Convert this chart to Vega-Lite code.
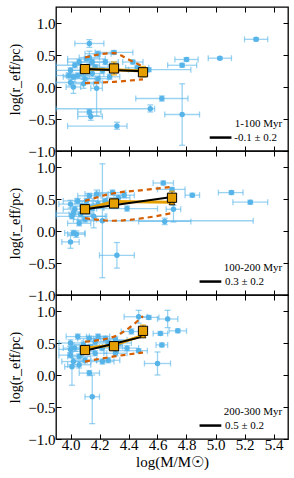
{
"$schema": "https://vega.github.io/schema/vega-lite/v6.json",
"padding": {"left": 8, "top": 5, "right": 7, "bottom": 5},
"spacing": 0,
"bounds": "flush",
"config": {
  "font": "Liberation Serif",
  "view": {"stroke": "black", "strokeWidth": 1.3},
  "axis": {"tickSize": -5, "tickColor": "black", "tickWidth": 1, "domain": false, "grid": false, "labelFont": "Liberation Serif", "labelFontSize": 15, "labelColor": "black", "labelPadding": 6, "titleFont": "Liberation Serif", "titleFontSize": 14, "titleFontWeight": "normal", "titleColor": "black", "titlePadding": 5}
},
"datasets": {
"pts": [
{"p":1,"x":5.28,"y":0.745,"xl":5.2,"xh":5.36,"yl":0.72,"yh":0.77},
{"p":1,"x":5.03,"y":0.45,"xl":4.95,"xh":5.11,"yl":0.43,"yh":0.47},
{"p":1,"x":4.8,"y":0.43,"xl":4.72,"xh":4.88,"yl":0.4,"yh":0.46},
{"p":1,"x":4.77,"y":0.34,"xl":4.67,"xh":4.87,"yl":0.31,"yh":0.37},
{"p":1,"x":4.63,"y":-0.18,"xl":4.45,"xh":4.81,"yl":-0.22,"yh":-0.14},
{"p":1,"x":4.55,"y":-0.34,"xl":3.9,"xh":4.58,"yl":-0.39,"yh":-0.28},
{"p":1,"x":4.77,"y":-0.43,"xl":4.65,"xh":4.89,"yl":-0.91,"yh":0.05},
{"p":1,"x":4.32,"y":-0.61,"xl":3.98,"xh":4.39,"yl":-0.66,"yh":-0.55},
{"p":1,"x":4.13,"y":-0.39,"xl":4.05,"xh":4.21,"yl":-0.43,"yh":-0.35},
{"p":1,"x":4.14,"y":-0.46,"xl":4.05,"xh":4.22,"yl":-0.52,"yh":-0.4},
{"p":1,"x":4.18,"y":-0.02,"xl":4.14,"xh":4.22,"yl":-0.45,"yh":0.05},
{"p":1,"x":4.13,"y":0.68,"xl":4.03,"xh":4.23,"yl":0.62,"yh":0.74},
{"p":1,"x":4.3,"y":0.54,"xl":4.17,"xh":4.43,"yl":0.51,"yh":0.57},
{"p":1,"x":4.43,"y":0.39,"xl":4.36,"xh":4.5,"yl":0.36,"yh":0.42},
{"p":1,"x":4.46,"y":0.3,"xl":4.38,"xh":4.54,"yl":0.27,"yh":0.33},
{"p":1,"x":4.54,"y":0.27,"xl":4.4,"xh":4.83,"yl":0.24,"yh":0.3},
{"p":1,"x":4.02,"y":0.0,"xl":3.97,"xh":4.07,"yl":-0.1,"yh":0.08},
{"p":1,"x":4.0,"y":0.07,"xl":3.9,"xh":4.22,"yl":0.02,"yh":0.12},
{"p":1,"x":4.06,"y":0.39,"xl":3.98,"xh":4.14,"yl":0.35,"yh":0.43},
{"p":1,"x":4.19,"y":0.52,"xl":4.1,"xh":4.28,"yl":0.48,"yh":0.56},
{"p":1,"x":4.11,"y":0.44,"xl":3.98,"xh":4.24,"yl":0.41,"yh":0.47},
{"p":1,"x":4.0,"y":0.26,"xl":3.9,"xh":4.1,"yl":0.22,"yh":0.3},
{"p":1,"x":4.02,"y":0.16,"xl":3.95,"xh":4.09,"yl":0.12,"yh":0.2},
{"p":1,"x":4.27,"y":0.16,"xl":4.2,"xh":4.34,"yl":0.12,"yh":0.2},
{"p":1,"x":4.03,"y":0.34,"xl":3.9,"xh":4.2,"yl":0.3,"yh":0.38},
{"p":1,"x":4.08,"y":0.26,"xl":4.0,"xh":4.16,"yl":0.22,"yh":0.3},
{"p":1,"x":4.15,"y":0.21,"xl":4.07,"xh":4.23,"yl":0.16,"yh":0.26},
{"p":1,"x":4.17,"y":0.31,"xl":4.08,"xh":4.26,"yl":0.27,"yh":0.35},
{"p":1,"x":4.22,"y":0.26,"xl":4.12,"xh":4.32,"yl":0.22,"yh":0.3},
{"p":1,"x":4.05,"y":0.18,"xl":3.97,"xh":4.13,"yl":0.14,"yh":0.22},
{"p":1,"x":4.1,"y":0.13,"xl":4.03,"xh":4.17,"yl":0.07,"yh":0.19},
{"p":1,"x":4.19,"y":0.13,"xl":4.12,"xh":4.26,"yl":0.09,"yh":0.17},
{"p":1,"x":3.99,"y":0.18,"xl":3.9,"xh":4.08,"yl":0.14,"yh":0.22},
{"p":1,"x":4.24,"y":0.39,"xl":4.15,"xh":4.33,"yl":0.35,"yh":0.43},
{"p":1,"x":4.15,"y":0.39,"xl":4.06,"xh":4.24,"yl":0.35,"yh":0.43},
{"p":1,"x":4.09,"y":0.05,"xl":4.02,"xh":4.16,"yl":-0.02,"yh":0.12},
{"p":1,"x":4.13,"y":0.46,"xl":4.06,"xh":4.2,"yl":0.36,"yh":0.56},
{"p":2,"x":5.11,"y":0.6,"xl":5.02,"xh":5.19,"yl":0.57,"yh":0.63},
{"p":2,"x":5.24,"y":0.45,"xl":5.12,"xh":5.36,"yl":0.42,"yh":0.48},
{"p":2,"x":4.84,"y":0.56,"xl":4.79,"xh":4.89,"yl":0.53,"yh":0.59},
{"p":2,"x":4.64,"y":0.75,"xl":4.57,"xh":4.71,"yl":0.72,"yh":0.78},
{"p":2,"x":4.7,"y":0.65,"xl":4.6,"xh":4.79,"yl":0.62,"yh":0.68},
{"p":2,"x":4.71,"y":0.34,"xl":4.66,"xh":4.76,"yl":0.14,"yh":0.4},
{"p":2,"x":4.65,"y":0.15,"xl":4.47,"xh":4.83,"yl":0.1,"yh":0.2},
{"p":2,"x":4.22,"y":0.16,"xl":4.05,"xh":5.26,"yl":-0.73,"yh":1.05},
{"p":2,"x":4.32,"y":-0.38,"xl":4.2,"xh":4.44,"yl":-0.58,"yh":-0.18},
{"p":2,"x":4.0,"y":-0.17,"xl":3.94,"xh":4.06,"yl":-0.27,"yh":-0.07},
{"p":2,"x":4.02,"y":-0.03,"xl":3.96,"xh":4.1,"yl":-0.07,"yh":0.01},
{"p":2,"x":4.04,"y":-0.05,"xl":3.98,"xh":4.1,"yl":-0.1,"yh":0.0},
{"p":2,"x":4.01,"y":0.23,"xl":3.9,"xh":4.25,"yl":0.19,"yh":0.27},
{"p":2,"x":4.1,"y":0.18,"xl":4.02,"xh":4.18,"yl":0.14,"yh":0.22},
{"p":2,"x":4.0,"y":0.42,"xl":3.92,"xh":4.08,"yl":0.36,"yh":0.48},
{"p":2,"x":4.05,"y":0.47,"xl":3.95,"xh":4.15,"yl":0.43,"yh":0.51},
{"p":2,"x":4.13,"y":0.55,"xl":4.05,"xh":4.21,"yl":0.51,"yh":0.59},
{"p":2,"x":4.18,"y":0.58,"xl":4.1,"xh":4.26,"yl":0.54,"yh":0.64},
{"p":2,"x":4.29,"y":0.6,"xl":4.2,"xh":4.38,"yl":0.56,"yh":0.64},
{"p":2,"x":4.37,"y":0.56,"xl":4.3,"xh":4.44,"yl":0.52,"yh":0.6},
{"p":2,"x":4.39,"y":0.35,"xl":4.18,"xh":4.6,"yl":0.31,"yh":0.39},
{"p":2,"x":4.03,"y":0.34,"xl":3.95,"xh":4.11,"yl":0.3,"yh":0.38},
{"p":2,"x":4.08,"y":0.39,"xl":4.0,"xh":4.16,"yl":0.35,"yh":0.43},
{"p":2,"x":4.15,"y":0.36,"xl":4.07,"xh":4.23,"yl":0.32,"yh":0.4},
{"p":2,"x":4.19,"y":0.42,"xl":4.11,"xh":4.27,"yl":0.38,"yh":0.46},
{"p":2,"x":4.24,"y":0.47,"xl":4.16,"xh":4.32,"yl":0.43,"yh":0.51},
{"p":2,"x":4.33,"y":0.52,"xl":4.25,"xh":4.41,"yl":0.48,"yh":0.56},
{"p":2,"x":4.16,"y":0.23,"xl":4.08,"xh":4.24,"yl":0.05,"yh":0.41},
{"p":2,"x":4.07,"y":0.26,"xl":3.99,"xh":4.15,"yl":0.22,"yh":0.3},
{"p":2,"x":4.11,"y":0.47,"xl":4.03,"xh":4.19,"yl":0.43,"yh":0.51},
{"p":2,"x":4.06,"y":0.12,"xl":3.98,"xh":4.14,"yl":0.08,"yh":0.16},
{"p":2,"x":4.02,"y":0.28,"xl":3.9,"xh":4.14,"yl":0.24,"yh":0.32},
{"p":3,"x":4.74,"y":0.69,"xl":4.68,"xh":4.8,"yl":0.66,"yh":0.72},
{"p":3,"x":4.67,"y":0.875,"xl":4.6,"xh":4.74,"yl":0.74,"yh":1.01},
{"p":3,"x":4.54,"y":0.9,"xl":4.47,"xh":4.61,"yl":0.87,"yh":0.93},
{"p":3,"x":4.47,"y":0.91,"xl":4.37,"xh":4.53,"yl":0.81,"yh":1.01},
{"p":3,"x":4.62,"y":0.65,"xl":4.57,"xh":4.67,"yl":0.62,"yh":0.68},
{"p":3,"x":4.63,"y":0.47,"xl":4.59,"xh":4.67,"yl":0.44,"yh":0.5},
{"p":3,"x":4.6,"y":0.18,"xl":4.51,"xh":4.69,"yl":0.0,"yh":0.36},
{"p":3,"x":4.47,"y":0.38,"xl":4.33,"xh":4.53,"yl":0.35,"yh":0.41},
{"p":3,"x":4.42,"y":0.68,"xl":4.35,"xh":4.49,"yl":0.64,"yh":0.72},
{"p":3,"x":4.15,"y":-0.34,"xl":4.1,"xh":4.2,"yl":-0.76,"yh":0.0},
{"p":3,"x":4.13,"y":0.03,"xl":4.06,"xh":4.2,"yl":-0.01,"yh":0.07},
{"p":3,"x":4.01,"y":0.13,"xl":3.96,"xh":4.06,"yl":-0.16,"yh":0.5},
{"p":3,"x":4.05,"y":0.6,"xl":3.97,"xh":4.13,"yl":0.56,"yh":0.64},
{"p":3,"x":4.0,"y":0.5,"xl":3.92,"xh":4.08,"yl":0.45,"yh":0.55},
{"p":3,"x":4.03,"y":0.42,"xl":3.95,"xh":4.11,"yl":0.37,"yh":0.47},
{"p":3,"x":4.09,"y":0.47,"xl":4.01,"xh":4.17,"yl":0.43,"yh":0.51},
{"p":3,"x":4.13,"y":0.57,"xl":4.05,"xh":4.21,"yl":0.53,"yh":0.61},
{"p":3,"x":4.19,"y":0.6,"xl":4.11,"xh":4.27,"yl":0.56,"yh":0.64},
{"p":3,"x":4.24,"y":0.57,"xl":4.16,"xh":4.32,"yl":0.53,"yh":0.61},
{"p":3,"x":4.31,"y":0.55,"xl":4.23,"xh":4.39,"yl":0.51,"yh":0.59},
{"p":3,"x":4.34,"y":0.5,"xl":4.26,"xh":4.42,"yl":0.46,"yh":0.54},
{"p":3,"x":4.0,"y":0.31,"xl":3.92,"xh":4.08,"yl":0.27,"yh":0.35},
{"p":3,"x":4.06,"y":0.29,"xl":3.98,"xh":4.14,"yl":0.25,"yh":0.33},
{"p":3,"x":4.02,"y":0.21,"xl":3.94,"xh":4.1,"yl":0.16,"yh":0.26},
{"p":3,"x":4.06,"y":0.16,"xl":3.98,"xh":4.14,"yl":0.11,"yh":0.21},
{"p":3,"x":4.1,"y":0.23,"xl":4.02,"xh":4.18,"yl":0.19,"yh":0.27},
{"p":3,"x":4.17,"y":0.34,"xl":4.09,"xh":4.25,"yl":0.3,"yh":0.38},
{"p":3,"x":4.22,"y":0.42,"xl":4.14,"xh":4.3,"yl":0.38,"yh":0.46},
{"p":3,"x":4.26,"y":0.5,"xl":4.18,"xh":4.34,"yl":0.46,"yh":0.54},
{"p":3,"x":4.26,"y":0.23,"xl":4.18,"xh":4.34,"yl":0.19,"yh":0.27},
{"p":3,"x":4.31,"y":0.34,"xl":4.23,"xh":4.39,"yl":0.3,"yh":0.38},
{"p":3,"x":4.22,"y":0.21,"xl":4.14,"xh":4.3,"yl":0.17,"yh":0.25},
{"p":3,"x":4.17,"y":0.52,"xl":4.09,"xh":4.25,"yl":0.48,"yh":0.56},
{"p":3,"x":4.39,"y":0.42,"xl":4.31,"xh":4.47,"yl":0.38,"yh":0.46},
{"p":3,"x":4.0,"y":0.4,"xl":3.92,"xh":4.08,"yl":0.35,"yh":0.45},
{"p":3,"x":4.08,"y":0.37,"xl":4.0,"xh":4.16,"yl":0.33,"yh":0.41},
{"p":3,"x":4.14,"y":0.44,"xl":4.06,"xh":4.22,"yl":0.4,"yh":0.48},
{"p":3,"x":4.28,"y":0.44,"xl":4.2,"xh":4.36,"yl":0.4,"yh":0.48}
],
"bins": [
{"p":1,"x":4.1,"sq":0.28,"tri":0.28,"yl":0.24,"yh":0.32},
{"p":1,"x":4.3,"sq":0.29,"tri":0.27,"yl":0.19,"yh":0.39},
{"p":1,"x":4.5,"sq":0.23,"tri":0.25,"yl":0.16,"yh":0.32},
{"p":2,"x":4.1,"sq":0.34,"tri":0.34,"yl":0.3,"yh":0.38},
{"p":2,"x":4.3,"sq":0.43,"tri":0.46,"yl":0.38,"yh":0.5},
{"p":2,"x":4.7,"sq":0.52,"tri":0.45,"yl":0.45,"yh":0.62},
{"p":3,"x":4.1,"sq":0.39,"tri":0.42,"yl":0.35,"yh":0.44},
{"p":3,"x":4.3,"sq":0.45,"tri":0.47,"yl":0.42,"yh":0.49},
{"p":3,"x":4.5,"sq":0.69,"tri":0.62,"yl":0.6,"yh":0.78}
],
"fit": [
{"p":1,"x":4.1,"y":0.28},{"p":1,"x":4.5,"y":0.245},
{"p":2,"x":4.1,"y":0.34},{"p":2,"x":4.7,"y":0.53},
{"p":3,"x":4.1,"y":0.38},{"p":3,"x":4.5,"y":0.6}
],
"env": [
{"p":1,"s":"u","x":4.1,"y":0.46},{"p":1,"s":"u","x":4.2,"y":0.51},{"p":1,"s":"u","x":4.3,"y":0.53},{"p":1,"s":"u","x":4.4,"y":0.43},{"p":1,"s":"u","x":4.5,"y":0.32},
{"p":1,"s":"l","x":4.1,"y":0.06},{"p":1,"s":"l","x":4.2,"y":0.07},{"p":1,"s":"l","x":4.3,"y":0.08},{"p":1,"s":"l","x":4.4,"y":0.1},{"p":1,"s":"l","x":4.5,"y":0.12},
{"p":2,"s":"u","x":4.1,"y":0.47},{"p":2,"s":"u","x":4.3,"y":0.59},{"p":2,"s":"u","x":4.5,"y":0.64},{"p":2,"s":"u","x":4.7,"y":0.69},
{"p":2,"s":"l","x":4.1,"y":0.2},{"p":2,"s":"l","x":4.3,"y":0.16},{"p":2,"s":"l","x":4.5,"y":0.2},{"p":2,"s":"l","x":4.7,"y":0.28},
{"p":3,"s":"u","x":4.1,"y":0.52},{"p":3,"s":"u","x":4.3,"y":0.6},{"p":3,"s":"u","x":4.4,"y":0.73},{"p":3,"s":"u","x":4.5,"y":0.92},
{"p":3,"s":"l","x":4.1,"y":0.21},{"p":3,"s":"l","x":4.3,"y":0.29},{"p":3,"s":"l","x":4.5,"y":0.35}
],
"leg": [
{"p":1,"title":"1-100 Myr","label":"-0.1 ± 0.2","tx":5.46,"ty":-0.58,"lx":5.13,"ly":-0.79,"l1":4.96,"l2":5.11},
{"p":2,"title":"100-200 Myr","label":"0.3 ± 0.2","tx":5.46,"ty":-0.58,"lx":5.065,"ly":-0.79,"l1":4.89,"l2":5.04},
{"p":3,"title":"200-300 Myr","label":"0.5 ± 0.2","tx":5.46,"ty":-0.58,"lx":5.065,"ly":-0.79,"l1":4.89,"l2":5.04}
]
},
"vconcat": [
{
"width": 232, "height": 144,
"resolve": {"axis": {"x": "independent", "y": "independent"}},
"layer": [
{"data": {"name": "pts"}, "transform": [{"filter": "datum.p==1"}],
 "mark": {"type": "errorbar", "color": "#56B4E9", "opacity": 0.6, "thickness": 1.3, "ticks": {"size": 6}},
 "encoding": {"x": {"field": "xl", "type": "quantitative", "scale": {"domain": [3.9, 5.5], "nice": false, "zero": false}, "axis": null}, "x2": {"field": "xh"}, "y": {"field": "y", "type": "quantitative", "scale": {"domain": [-1, 1.25], "nice": false, "zero": false}, "axis": null}}},
{"data": {"name": "pts"}, "transform": [{"filter": "datum.p==1"}],
 "mark": {"type": "errorbar", "color": "#56B4E9", "opacity": 0.6, "thickness": 1.3, "ticks": {"size": 6}},
 "encoding": {"x": {"field": "x", "type": "quantitative", "scale": {"domain": [3.9, 5.5], "nice": false, "zero": false}, "axis": null}, "y": {"field": "yl", "type": "quantitative", "scale": {"domain": [-1, 1.25], "nice": false, "zero": false}, "axis": null}, "y2": {"field": "yh"}}},
{"data": {"name": "pts"}, "transform": [{"filter": "datum.p==1"}],
 "mark": {"type": "circle", "size": 30, "color": "#56B4E9", "opacity": 1},
 "encoding": {"x": {"field": "x", "type": "quantitative", "scale": {"domain": [3.9, 5.5], "nice": false, "zero": false}, "axis": {"orient": "bottom", "values": [4, 4.2, 4.4, 4.6, 4.8, 5, 5.2, 5.4], "labels": false, "title": null}}, "y": {"field": "y", "type": "quantitative", "scale": {"domain": [-1, 1.25], "nice": false, "zero": false}, "axis": {"orient": "left", "values": [-1, -0.5, 0, 0.5, 1], "format": ".1f", "title": "log(r_eff/pc)"}}}},
{"data": {"name": "env"}, "transform": [{"filter": "datum.p==1"}],
 "mark": {"type": "line", "color": "#D55E00", "strokeWidth": 2.2, "strokeDash": [5, 4], "interpolate": "monotone"},
 "encoding": {"x": {"field": "x", "type": "quantitative", "scale": {"domain": [3.9, 5.5], "nice": false, "zero": false}, "axis": null}, "y": {"field": "y", "type": "quantitative", "scale": {"domain": [-1, 1.25], "nice": false, "zero": false}, "axis": null}, "detail": {"field": "s"}}},
{"data": {"name": "bins"}, "transform": [{"filter": "datum.p==1"}],
 "mark": {"type": "line", "color": "#E69F00", "strokeWidth": 3},
 "encoding": {"x": {"field": "x", "type": "quantitative", "scale": {"domain": [3.9, 5.5], "nice": false, "zero": false}, "axis": null}, "y": {"field": "tri", "type": "quantitative", "scale": {"domain": [-1, 1.25], "nice": false, "zero": false}, "axis": null}}},
{"data": {"name": "bins"}, "transform": [{"filter": "datum.p==1"}],
 "mark": {"type": "errorbar", "color": "#E69F00", "thickness": 1.5, "ticks": {"size": 6}},
 "encoding": {"x": {"field": "x", "type": "quantitative", "scale": {"domain": [3.9, 5.5], "nice": false, "zero": false}, "axis": null}, "y": {"field": "yl", "type": "quantitative", "scale": {"domain": [-1, 1.25], "nice": false, "zero": false}, "axis": null}, "y2": {"field": "yh"}}},
{"data": {"name": "fit"}, "transform": [{"filter": "datum.p==1"}],
 "mark": {"type": "line", "color": "black", "strokeWidth": 2},
 "encoding": {"x": {"field": "x", "type": "quantitative", "scale": {"domain": [3.9, 5.5], "nice": false, "zero": false}, "axis": {"orient": "top", "values": [4, 4.2, 4.4, 4.6, 4.8, 5, 5.2, 5.4], "labels": false, "title": null}}, "y": {"field": "y", "type": "quantitative", "scale": {"domain": [-1, 1.25], "nice": false, "zero": false}, "axis": {"orient": "right", "values": [-1, -0.5, 0, 0.5, 1], "labels": false, "title": null}}}},
{"data": {"name": "bins"}, "transform": [{"filter": "datum.p==1"}],
 "mark": {"type": "point", "shape": "triangle-up", "filled": true, "fill": "#E69F00", "stroke": "black", "strokeWidth": 0.8, "size": 35, "opacity": 1},
 "encoding": {"x": {"field": "x", "type": "quantitative", "scale": {"domain": [3.9, 5.5], "nice": false, "zero": false}, "axis": null}, "y": {"field": "tri", "type": "quantitative", "scale": {"domain": [-1, 1.25], "nice": false, "zero": false}, "axis": null}}},
{"data": {"name": "bins"}, "transform": [{"filter": "datum.p==1"}],
 "mark": {"type": "square", "size": 85, "fill": "#E69F00", "stroke": "black", "strokeWidth": 1, "opacity": 1},
 "encoding": {"x": {"field": "x", "type": "quantitative", "scale": {"domain": [3.9, 5.5], "nice": false, "zero": false}, "axis": null}, "y": {"field": "sq", "type": "quantitative", "scale": {"domain": [-1, 1.25], "nice": false, "zero": false}, "axis": null}}},
{"data": {"name": "leg"}, "transform": [{"filter": "datum.p==1"}],
 "mark": {"type": "rule", "color": "black", "strokeWidth": 2.5},
 "encoding": {"x": {"field": "l1", "type": "quantitative", "scale": {"domain": [3.9, 5.5], "nice": false, "zero": false}, "axis": null}, "x2": {"field": "l2"}, "y": {"field": "ly", "type": "quantitative", "scale": {"domain": [-1, 1.25], "nice": false, "zero": false}, "axis": null}}},
{"data": {"name": "leg"}, "transform": [{"filter": "datum.p==1"}],
 "mark": {"type": "text", "align": "right", "baseline": "middle", "fontSize": 11, "font": "Liberation Serif", "color": "black"},
 "encoding": {"x": {"field": "tx", "type": "quantitative", "scale": {"domain": [3.9, 5.5], "nice": false, "zero": false}, "axis": null}, "y": {"field": "ty", "type": "quantitative", "scale": {"domain": [-1, 1.25], "nice": false, "zero": false}, "axis": null}, "text": {"field": "title"}}},
{"data": {"name": "leg"}, "transform": [{"filter": "datum.p==1"}],
 "mark": {"type": "text", "align": "left", "baseline": "middle", "fontSize": 11, "font": "Liberation Serif", "color": "black"},
 "encoding": {"x": {"field": "lx", "type": "quantitative", "scale": {"domain": [3.9, 5.5], "nice": false, "zero": false}, "axis": null}, "y": {"field": "ly", "type": "quantitative", "scale": {"domain": [-1, 1.25], "nice": false, "zero": false}, "axis": null}, "text": {"field": "label"}}}
]
},
{
"width": 232, "height": 144,
"resolve": {"axis": {"x": "independent", "y": "independent"}},
"layer": [
{"data": {"name": "pts"}, "transform": [{"filter": "datum.p==2"}],
 "mark": {"type": "errorbar", "color": "#56B4E9", "opacity": 0.6, "thickness": 1.3, "ticks": {"size": 6}},
 "encoding": {"x": {"field": "xl", "type": "quantitative", "scale": {"domain": [3.9, 5.5], "nice": false, "zero": false}, "axis": null}, "x2": {"field": "xh"}, "y": {"field": "y", "type": "quantitative", "scale": {"domain": [-1, 1.25], "nice": false, "zero": false}, "axis": null}}},
{"data": {"name": "pts"}, "transform": [{"filter": "datum.p==2"}],
 "mark": {"type": "errorbar", "color": "#56B4E9", "opacity": 0.6, "thickness": 1.3, "ticks": {"size": 6}},
 "encoding": {"x": {"field": "x", "type": "quantitative", "scale": {"domain": [3.9, 5.5], "nice": false, "zero": false}, "axis": null}, "y": {"field": "yl", "type": "quantitative", "scale": {"domain": [-1, 1.25], "nice": false, "zero": false}, "axis": null}, "y2": {"field": "yh"}}},
{"data": {"name": "pts"}, "transform": [{"filter": "datum.p==2"}],
 "mark": {"type": "circle", "size": 30, "color": "#56B4E9", "opacity": 1},
 "encoding": {"x": {"field": "x", "type": "quantitative", "scale": {"domain": [3.9, 5.5], "nice": false, "zero": false}, "axis": {"orient": "bottom", "values": [4, 4.2, 4.4, 4.6, 4.8, 5, 5.2, 5.4], "labels": false, "title": null}}, "y": {"field": "y", "type": "quantitative", "scale": {"domain": [-1, 1.25], "nice": false, "zero": false}, "axis": {"orient": "left", "values": [-1, -0.5, 0, 0.5, 1], "format": ".1f", "title": "log(r_eff/pc)"}}}},
{"data": {"name": "env"}, "transform": [{"filter": "datum.p==2"}],
 "mark": {"type": "line", "color": "#D55E00", "strokeWidth": 2.2, "strokeDash": [5, 4], "interpolate": "monotone"},
 "encoding": {"x": {"field": "x", "type": "quantitative", "scale": {"domain": [3.9, 5.5], "nice": false, "zero": false}, "axis": null}, "y": {"field": "y", "type": "quantitative", "scale": {"domain": [-1, 1.25], "nice": false, "zero": false}, "axis": null}, "detail": {"field": "s"}}},
{"data": {"name": "bins"}, "transform": [{"filter": "datum.p==2"}],
 "mark": {"type": "line", "color": "#E69F00", "strokeWidth": 3},
 "encoding": {"x": {"field": "x", "type": "quantitative", "scale": {"domain": [3.9, 5.5], "nice": false, "zero": false}, "axis": null}, "y": {"field": "tri", "type": "quantitative", "scale": {"domain": [-1, 1.25], "nice": false, "zero": false}, "axis": null}}},
{"data": {"name": "bins"}, "transform": [{"filter": "datum.p==2"}],
 "mark": {"type": "errorbar", "color": "#E69F00", "thickness": 1.5, "ticks": {"size": 6}},
 "encoding": {"x": {"field": "x", "type": "quantitative", "scale": {"domain": [3.9, 5.5], "nice": false, "zero": false}, "axis": null}, "y": {"field": "yl", "type": "quantitative", "scale": {"domain": [-1, 1.25], "nice": false, "zero": false}, "axis": null}, "y2": {"field": "yh"}}},
{"data": {"name": "fit"}, "transform": [{"filter": "datum.p==2"}],
 "mark": {"type": "line", "color": "black", "strokeWidth": 2},
 "encoding": {"x": {"field": "x", "type": "quantitative", "scale": {"domain": [3.9, 5.5], "nice": false, "zero": false}, "axis": {"orient": "top", "values": [4, 4.2, 4.4, 4.6, 4.8, 5, 5.2, 5.4], "labels": false, "title": null}}, "y": {"field": "y", "type": "quantitative", "scale": {"domain": [-1, 1.25], "nice": false, "zero": false}, "axis": {"orient": "right", "values": [-1, -0.5, 0, 0.5, 1], "labels": false, "title": null}}}},
{"data": {"name": "bins"}, "transform": [{"filter": "datum.p==2"}],
 "mark": {"type": "point", "shape": "triangle-up", "filled": true, "fill": "#E69F00", "stroke": "black", "strokeWidth": 0.8, "size": 35, "opacity": 1},
 "encoding": {"x": {"field": "x", "type": "quantitative", "scale": {"domain": [3.9, 5.5], "nice": false, "zero": false}, "axis": null}, "y": {"field": "tri", "type": "quantitative", "scale": {"domain": [-1, 1.25], "nice": false, "zero": false}, "axis": null}}},
{"data": {"name": "bins"}, "transform": [{"filter": "datum.p==2"}],
 "mark": {"type": "square", "size": 85, "fill": "#E69F00", "stroke": "black", "strokeWidth": 1, "opacity": 1},
 "encoding": {"x": {"field": "x", "type": "quantitative", "scale": {"domain": [3.9, 5.5], "nice": false, "zero": false}, "axis": null}, "y": {"field": "sq", "type": "quantitative", "scale": {"domain": [-1, 1.25], "nice": false, "zero": false}, "axis": null}}},
{"data": {"name": "leg"}, "transform": [{"filter": "datum.p==2"}],
 "mark": {"type": "rule", "color": "black", "strokeWidth": 2.5},
 "encoding": {"x": {"field": "l1", "type": "quantitative", "scale": {"domain": [3.9, 5.5], "nice": false, "zero": false}, "axis": null}, "x2": {"field": "l2"}, "y": {"field": "ly", "type": "quantitative", "scale": {"domain": [-1, 1.25], "nice": false, "zero": false}, "axis": null}}},
{"data": {"name": "leg"}, "transform": [{"filter": "datum.p==2"}],
 "mark": {"type": "text", "align": "right", "baseline": "middle", "fontSize": 11, "font": "Liberation Serif", "color": "black"},
 "encoding": {"x": {"field": "tx", "type": "quantitative", "scale": {"domain": [3.9, 5.5], "nice": false, "zero": false}, "axis": null}, "y": {"field": "ty", "type": "quantitative", "scale": {"domain": [-1, 1.25], "nice": false, "zero": false}, "axis": null}, "text": {"field": "title"}}},
{"data": {"name": "leg"}, "transform": [{"filter": "datum.p==2"}],
 "mark": {"type": "text", "align": "left", "baseline": "middle", "fontSize": 11, "font": "Liberation Serif", "color": "black"},
 "encoding": {"x": {"field": "lx", "type": "quantitative", "scale": {"domain": [3.9, 5.5], "nice": false, "zero": false}, "axis": null}, "y": {"field": "ly", "type": "quantitative", "scale": {"domain": [-1, 1.25], "nice": false, "zero": false}, "axis": null}, "text": {"field": "label"}}}
]
},
{
"width": 232, "height": 144,
"resolve": {"axis": {"x": "independent", "y": "independent"}},
"layer": [
{"data": {"name": "pts"}, "transform": [{"filter": "datum.p==3"}],
 "mark": {"type": "errorbar", "color": "#56B4E9", "opacity": 0.6, "thickness": 1.3, "ticks": {"size": 6}},
 "encoding": {"x": {"field": "xl", "type": "quantitative", "scale": {"domain": [3.9, 5.5], "nice": false, "zero": false}, "axis": null}, "x2": {"field": "xh"}, "y": {"field": "y", "type": "quantitative", "scale": {"domain": [-1, 1.25], "nice": false, "zero": false}, "axis": null}}},
{"data": {"name": "pts"}, "transform": [{"filter": "datum.p==3"}],
 "mark": {"type": "errorbar", "color": "#56B4E9", "opacity": 0.6, "thickness": 1.3, "ticks": {"size": 6}},
 "encoding": {"x": {"field": "x", "type": "quantitative", "scale": {"domain": [3.9, 5.5], "nice": false, "zero": false}, "axis": null}, "y": {"field": "yl", "type": "quantitative", "scale": {"domain": [-1, 1.25], "nice": false, "zero": false}, "axis": null}, "y2": {"field": "yh"}}},
{"data": {"name": "pts"}, "transform": [{"filter": "datum.p==3"}],
 "mark": {"type": "circle", "size": 30, "color": "#56B4E9", "opacity": 1},
 "encoding": {"x": {"field": "x", "type": "quantitative", "scale": {"domain": [3.9, 5.5], "nice": false, "zero": false}, "axis": {"orient": "bottom", "values": [4, 4.2, 4.4, 4.6, 4.8, 5, 5.2, 5.4], "format": ".1f", "labelPadding": 3, "title": "log(M/M☉)", "titleFontSize": 15, "titlePadding": 2}}, "y": {"field": "y", "type": "quantitative", "scale": {"domain": [-1, 1.25], "nice": false, "zero": false}, "axis": {"orient": "left", "values": [-1, -0.5, 0, 0.5, 1], "format": ".1f", "title": "log(r_eff/pc)"}}}},
{"data": {"name": "env"}, "transform": [{"filter": "datum.p==3"}],
 "mark": {"type": "line", "color": "#D55E00", "strokeWidth": 2.2, "strokeDash": [5, 4], "interpolate": "monotone"},
 "encoding": {"x": {"field": "x", "type": "quantitative", "scale": {"domain": [3.9, 5.5], "nice": false, "zero": false}, "axis": null}, "y": {"field": "y", "type": "quantitative", "scale": {"domain": [-1, 1.25], "nice": false, "zero": false}, "axis": null}, "detail": {"field": "s"}}},
{"data": {"name": "bins"}, "transform": [{"filter": "datum.p==3"}],
 "mark": {"type": "line", "color": "#E69F00", "strokeWidth": 3},
 "encoding": {"x": {"field": "x", "type": "quantitative", "scale": {"domain": [3.9, 5.5], "nice": false, "zero": false}, "axis": null}, "y": {"field": "tri", "type": "quantitative", "scale": {"domain": [-1, 1.25], "nice": false, "zero": false}, "axis": null}}},
{"data": {"name": "bins"}, "transform": [{"filter": "datum.p==3"}],
 "mark": {"type": "errorbar", "color": "#E69F00", "thickness": 1.5, "ticks": {"size": 6}},
 "encoding": {"x": {"field": "x", "type": "quantitative", "scale": {"domain": [3.9, 5.5], "nice": false, "zero": false}, "axis": null}, "y": {"field": "yl", "type": "quantitative", "scale": {"domain": [-1, 1.25], "nice": false, "zero": false}, "axis": null}, "y2": {"field": "yh"}}},
{"data": {"name": "fit"}, "transform": [{"filter": "datum.p==3"}],
 "mark": {"type": "line", "color": "black", "strokeWidth": 2},
 "encoding": {"x": {"field": "x", "type": "quantitative", "scale": {"domain": [3.9, 5.5], "nice": false, "zero": false}, "axis": {"orient": "top", "values": [4, 4.2, 4.4, 4.6, 4.8, 5, 5.2, 5.4], "labels": false, "title": null}}, "y": {"field": "y", "type": "quantitative", "scale": {"domain": [-1, 1.25], "nice": false, "zero": false}, "axis": {"orient": "right", "values": [-1, -0.5, 0, 0.5, 1], "labels": false, "title": null}}}},
{"data": {"name": "bins"}, "transform": [{"filter": "datum.p==3"}],
 "mark": {"type": "point", "shape": "triangle-up", "filled": true, "fill": "#E69F00", "stroke": "black", "strokeWidth": 0.8, "size": 35, "opacity": 1},
 "encoding": {"x": {"field": "x", "type": "quantitative", "scale": {"domain": [3.9, 5.5], "nice": false, "zero": false}, "axis": null}, "y": {"field": "tri", "type": "quantitative", "scale": {"domain": [-1, 1.25], "nice": false, "zero": false}, "axis": null}}},
{"data": {"name": "bins"}, "transform": [{"filter": "datum.p==3"}],
 "mark": {"type": "square", "size": 85, "fill": "#E69F00", "stroke": "black", "strokeWidth": 1, "opacity": 1},
 "encoding": {"x": {"field": "x", "type": "quantitative", "scale": {"domain": [3.9, 5.5], "nice": false, "zero": false}, "axis": null}, "y": {"field": "sq", "type": "quantitative", "scale": {"domain": [-1, 1.25], "nice": false, "zero": false}, "axis": null}}},
{"data": {"name": "leg"}, "transform": [{"filter": "datum.p==3"}],
 "mark": {"type": "rule", "color": "black", "strokeWidth": 2.5},
 "encoding": {"x": {"field": "l1", "type": "quantitative", "scale": {"domain": [3.9, 5.5], "nice": false, "zero": false}, "axis": null}, "x2": {"field": "l2"}, "y": {"field": "ly", "type": "quantitative", "scale": {"domain": [-1, 1.25], "nice": false, "zero": false}, "axis": null}}},
{"data": {"name": "leg"}, "transform": [{"filter": "datum.p==3"}],
 "mark": {"type": "text", "align": "right", "baseline": "middle", "fontSize": 11, "font": "Liberation Serif", "color": "black"},
 "encoding": {"x": {"field": "tx", "type": "quantitative", "scale": {"domain": [3.9, 5.5], "nice": false, "zero": false}, "axis": null}, "y": {"field": "ty", "type": "quantitative", "scale": {"domain": [-1, 1.25], "nice": false, "zero": false}, "axis": null}, "text": {"field": "title"}}},
{"data": {"name": "leg"}, "transform": [{"filter": "datum.p==3"}],
 "mark": {"type": "text", "align": "left", "baseline": "middle", "fontSize": 11, "font": "Liberation Serif", "color": "black"},
 "encoding": {"x": {"field": "lx", "type": "quantitative", "scale": {"domain": [3.9, 5.5], "nice": false, "zero": false}, "axis": null}, "y": {"field": "ly", "type": "quantitative", "scale": {"domain": [-1, 1.25], "nice": false, "zero": false}, "axis": null}, "text": {"field": "label"}}}
]
}
]
}
